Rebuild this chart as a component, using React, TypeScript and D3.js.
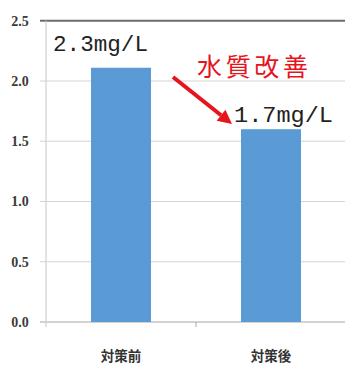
import React from "react";
import * as d3 from "d3";

const categories = ["対策前", "対策後"];
const values = [2.11, 1.6];
const yTicks = [0, 0.5, 1.0, 1.5, 2.0, 2.5];
const valueLabels = ["2.3mg/L", "1.7mg/L"];
const noteText = "水質改善";

const width = 345;
const height = 367;
const marginLeft = 46;
const marginRight = -1;
const marginTop = 20.75;
const marginBottom = 45;

const App = () => {
  const x = d3
    .scaleBand<string>()
    .domain(categories)
    .range([marginLeft, width - marginRight])
    .paddingInner(0.6)
    .paddingOuter(0.3);

  const y = d3
    .scaleLinear()
    .domain([0, 2.5])
    .range([height - marginBottom, marginTop]);

  const step = x.step();
  const red = "#e8141c";

  // arrow from the note down to the second bar
  const ax1 = 173, ay1 = 77;
  const ax2 = 232, ay2 = 124;
  const ang = Math.atan2(ay2 - ay1, ax2 - ax1);
  const headLen = 14, headW = 7;
  const bx = ax2 - headLen * Math.cos(ang);
  const by = ay2 - headLen * Math.sin(ang);
  const head = [
    [ax2, ay2],
    [bx + headW * Math.sin(ang), by - headW * Math.cos(ang)],
    [bx - headW * Math.sin(ang), by + headW * Math.cos(ang)],
  ];

  return (
    <svg
      width={width}
      height={height}
      style={{ position: "absolute", left: 0, top: 0, background: "#fff" }}
    >
      {/* gridlines */}
      {yTicks.map((t) => (
        <line
          key={"g" + t}
          x1={marginLeft - 6}
          x2={width}
          y1={y(t)}
          y2={y(t)}
          stroke={t === 2.5 ? "#6b6b6b" : t === 0 ? "#a6a6a6" : "#d4d4d4"}
          strokeWidth={t === 2.5 ? 2 : 1.2}
        />
      ))}
      {/* y axis line */}
      <line
        x1={marginLeft}
        x2={marginLeft}
        y1={y(2.5)}
        y2={y(0) + 5}
        stroke="#cfcfcf"
        strokeWidth={1.2}
      />
      {/* category boundary tick */}
      {categories.slice(1).map((c) => (
        <line
          key={"t" + c}
          x1={(x(c) as number) - (step * 0.6) / 2}
          x2={(x(c) as number) - (step * 0.6) / 2}
          y1={y(0)}
          y2={y(0) + 5}
          stroke="#a6a6a6"
        />
      ))}
      {/* y tick labels */}
      {yTicks.map((t) => (
        <text
          key={"l" + t}
          x={20}
          y={y(t)}
          dy="0.35em"
          textAnchor="middle"
          style={{ fontFamily: "'Liberation Serif', serif", fontWeight: 700, fontSize: "14px" }}
          fill="#3a3a3a"
        >
          {t.toFixed(1)}
        </text>
      ))}
      {/* bars */}
      {categories.map((c, i) => (
        <rect
          key={c}
          x={x(c)}
          y={y(values[i])}
          width={x.bandwidth()}
          height={y(0) - y(values[i])}
          fill="#5b9bd5"
        />
      ))}
      {/* category labels */}
      {categories.map((c) => (
        <text
          key={"c" + c}
          x={(x(c) as number) + x.bandwidth() / 2}
          y={361}
          textAnchor="middle"
          fontFamily="Noto Sans CJK JP"
          fontWeight="bold"
          fontSize={13.5}
          fill="#333"
        >
          {c}
        </text>
      ))}
      {/* value annotations */}
      <text
        x={53}
        y={51}
        fontFamily="Liberation Mono"
        fontSize={22.5}
        fill="#222"
        textLength={95}
        lengthAdjust="spacingAndGlyphs"
      >
        {valueLabels[0]}
      </text>
      <text
        x={234}
        y={122}
        fontFamily="Liberation Mono"
        fontSize={22.5}
        fill="#222"
        textLength={99}
        lengthAdjust="spacingAndGlyphs"
      >
        {valueLabels[1]}
      </text>
      <text
        x={197}
        y={76}
        fontFamily="Noto Sans CJK JP"
        fontSize={25}
        fill={red}
        textLength={111}
        lengthAdjust="spacing"
      >
        {noteText}
      </text>
      <line x1={ax1} y1={ay1} x2={bx} y2={by} stroke={red} strokeWidth={4} />
      <polygon points={head.map((p) => p.join(",")).join(" ")} fill={red} />
    </svg>
  );
};

export default App;
